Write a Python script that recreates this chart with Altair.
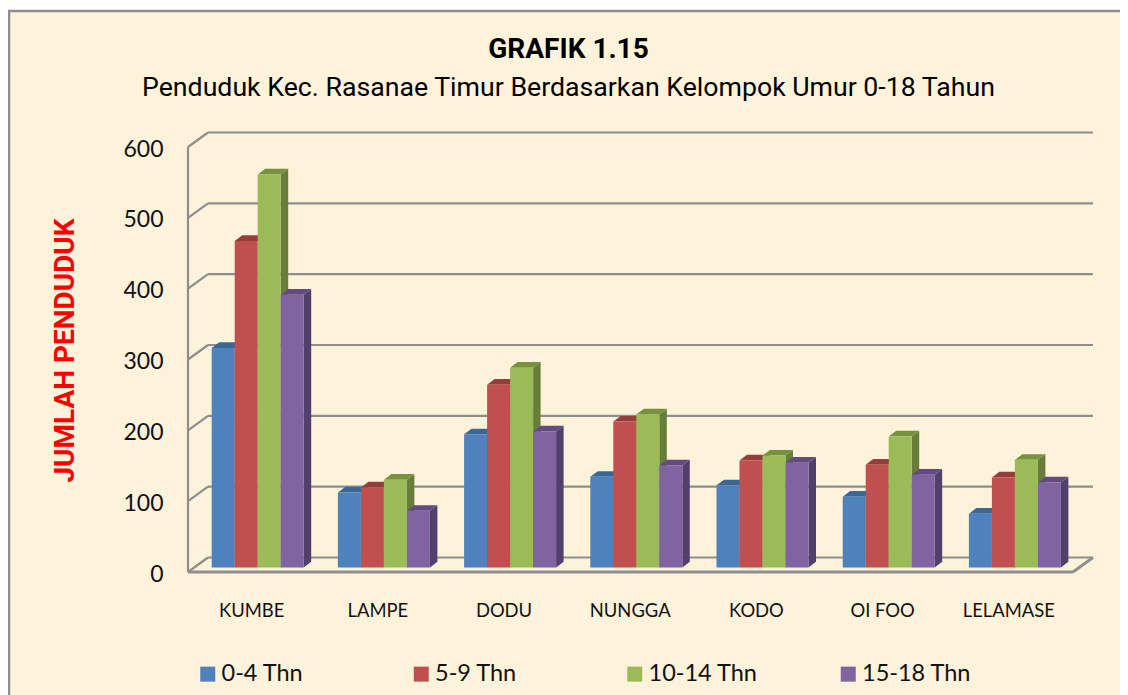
import altair as alt
import pandas as pd

categories = ["KUMBE", "LAMPE", "DODU", "NUNGGA", "KODO", "OI FOO", "LELAMASE"]
series = ["0-4 Thn", "5-9 Thn", "10-14 Thn", "15-18 Thn"]
v_0_4 = [310, 106, 188, 128, 116, 100, 76]
v_5_9 = [461, 113, 258, 206, 151, 145, 127]
v_10_14 = [555, 124, 282, 216, 158, 185, 152]
v_15_18 = [385, 80, 192, 144, 148, 131, 120]
values = [v_0_4, v_5_9, v_10_14, v_15_18]
front_colors = ["#4F81BD", "#C0504D", "#9BBB59", "#8064A2"]
side_colors = ["#39618F", "#8E3A38", "#677D3A", "#523F6C"]
top_colors = ["#3B6797", "#963D3B", "#76923C", "#614B80"]
y_ticks = [0, 100, 200, 300, 400, 500, 600]

BG = "#FDF2DA"
GRID = "#8E8E8E"
W, H = 905, 440
STEP = 126.2            # pixels per category
UNIT = 425 / 600        # pixels per value unit
x_dom = W / STEP
y_dom = H / UNIT
fx = lambda px: px / STEP
fy = lambda px: px / UNIT

bar_w = fx(23)
bar_start = fx(23.7)
base = fy(4.5)
dep_x, dep_y = fx(7.5), fy(5.7)
wall_x, wall_y = fx(20), fy(14.5)
floor_end = fx(885)

x_scale = alt.Scale(domain=[0, x_dom], nice=False, zero=False)
y_scale = alt.Scale(domain=[0, y_dom], nice=False)
label_expr = "[" + ",".join(f"'{c}'" for c in categories) + "][floor(datum.value)]"
x_axis = alt.Axis(values=[i + 0.5 for i in range(len(categories))], labelExpr=label_expr,
                  title=None, domain=False, ticks=False, grid=False, labelPadding=29, zindex=1,
                  labelFont="Lato", labelFontSize=18.4, labelColor="#111111", labelAngle=0)
y_axis = alt.Axis(values=y_ticks, title="JUMLAH PENDUDUK", titleFont="Roboto",
                  titleFontSize=28, titleFontWeight="bold", titleColor="#FF0000", titleAngle=270,
                  titleX=-123, titleY=218, titleAlign="center", titleBaseline="middle", zindex=1,
                  domain=False, ticks=False, grid=False, labelPadding=25, labelOffset=2,
                  labelFont="Lato", labelFontSize=23, labelColor="#111111")

frame = alt.Chart(pd.DataFrame({"a": [0]})).mark_rect(
    fill=BG, stroke=GRID, strokeWidth=2.5, clip=False
).encode(x=alt.value(-179), x2=alt.value(938), y=alt.value(-121), y2=alt.value(600))

# back wall, floor and left side of the plot box
wall = pd.DataFrame({"v": y_ticks})
wall["back"] = wall["v"] + wall_y
wall["x0"] = wall_x
wall["x1"] = x_dom
wall["xl"] = 0.0
grid_back = alt.Chart(wall).mark_rule(color=GRID, strokeWidth=2.2).encode(
    x=alt.X("x0:Q", scale=x_scale, axis=x_axis), x2="x1:Q",
    y=alt.Y("back:Q", scale=y_scale, axis=y_axis))
grid_diag = alt.Chart(wall).mark_rule(color=GRID, strokeWidth=2.2).encode(
    x=alt.X("xl:Q", scale=x_scale), x2="x0:Q",
    y=alt.Y("v:Q", scale=y_scale), y2="back:Q")

box = pd.DataFrame({"x": [0.0, floor_end], "x2": [floor_end, x_dom],
                    "y": [0.0, 0.0], "y2": [0.0, wall_y]})
floor = alt.Chart(box).mark_rule(color=GRID, strokeWidth=2.8).encode(
    x=alt.X("x:Q", scale=x_scale), x2="x2:Q", y=alt.Y("y:Q", scale=y_scale), y2="y2:Q")
left = alt.Chart(pd.DataFrame({"x": [0.0], "a": [0.0], "b": [600.0]})).mark_rule(
    color=GRID, strokeWidth=2.2).encode(
    x=alt.X("x:Q", scale=x_scale), y=alt.Y("a:Q", scale=y_scale), y2="b:Q")

layers = [frame, grid_back, grid_diag, floor, left]

for j, s in enumerate(series):
    fronts, sides, tops = [], [], []
    for i, c in enumerate(categories):
        v = values[j][i]
        l = i + bar_start + j * bar_w
        r = l + bar_w
        t = base + v
        fronts.append({"cat": c, "series": s, "l": l, "r": r, "b": base, "t": t, "value": v})
        sides += [{"cat": c, "x": r, "lo": base, "hi": t},
                  {"cat": c, "x": r + dep_x, "lo": base + dep_y, "hi": t + dep_y}]
        tops += [{"cat": c, "x": l, "lo": t, "hi": t},
                 {"cat": c, "x": l + dep_x, "lo": t, "hi": t + dep_y},
                 {"cat": c, "x": r, "lo": t, "hi": t + dep_y},
                 {"cat": c, "x": r + dep_x, "lo": t + dep_y, "hi": t + dep_y}]
    side = alt.Chart(pd.DataFrame(sides)).mark_area(color=side_colors[j], orient="vertical").encode(
        x=alt.X("x:Q", scale=x_scale), y=alt.Y("lo:Q", scale=y_scale), y2="hi:Q", detail="cat:N")
    top = alt.Chart(pd.DataFrame(tops)).mark_area(color=top_colors[j], orient="vertical").encode(
        x=alt.X("x:Q", scale=x_scale), y=alt.Y("lo:Q", scale=y_scale), y2="hi:Q", detail="cat:N")
    front = alt.Chart(pd.DataFrame(fronts)).mark_bar(stroke=None).encode(
        x=alt.X("l:Q", scale=x_scale), x2="r:Q",
        y=alt.Y("b:Q", scale=y_scale), y2="t:Q",
        color=alt.Color("series:N", scale=alt.Scale(domain=series, range=front_colors),
                        legend=alt.Legend(title=None, orient="none", legendX=8, legendY=530,
                                          direction="horizontal", columns=4, symbolType="square",
                                          symbolSize=225, symbolStrokeWidth=0, symbolOpacity=1,
                                          labelFont="Lato", labelFontSize=23.5, labelColor="#111111",
                                          labelOffset=2, columnPadding=78.5, labelLimit=200,
                                          gridAlign="all")))
    layers += [side, top, front]

chart = alt.layer(*layers).properties(
    width=W, height=H,
    title=alt.TitleParams(text="GRAFIK 1.15", subtitle="Penduduk Kec. Rasanae Timur Berdasarkan Kelompok Umur 0-18 Tahun",
                          anchor="middle", dx=-72, offset=-92,
                          font="Roboto", fontSize=28, fontWeight="bold", color="#000000",
                          subtitleFont="Roboto", subtitleFontSize=26.7, subtitleColor="#000000",
                          subtitlePadding=11),
    autosize=alt.AutoSizeParams(type="none"),
    padding={"left": 180, "top": 124, "right": 27, "bottom": 123},
    background="white",
).configure_view(stroke=None)

chart.save("out.html", embed_options={"renderer": "svg", "actions": False})
